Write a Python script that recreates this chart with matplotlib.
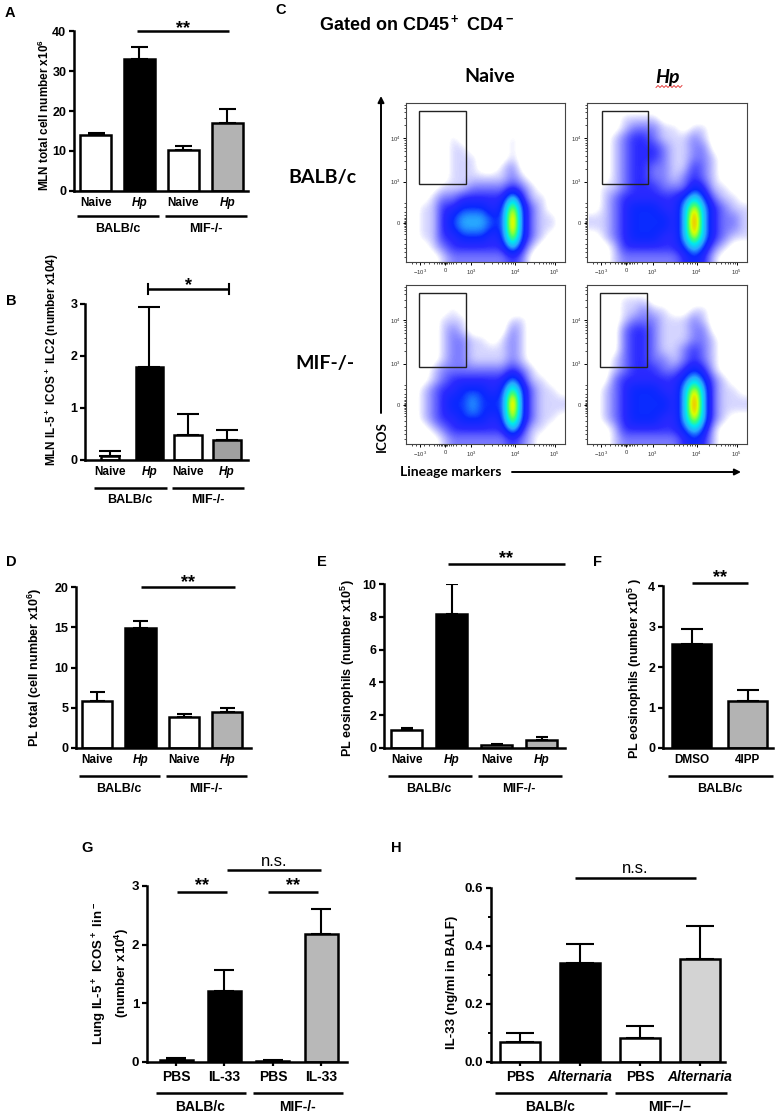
import numpy as np
import matplotlib
matplotlib.use("Agg")
import matplotlib.pyplot as plt
import matplotlib.transforms as mtransforms
from matplotlib.colors import LinearSegmentedColormap
from matplotlib.patches import Rectangle

W, H = 777, 1112

# ---------------- data ----------------
naive_hp = ["Naive", "Hp", "Naive", "Hp"]

mln_total = [14.1, 33.0, 10.2, 17.1]          # A  x10^6
mln_total_err = [0.5, 3.0, 1.1, 3.5]
mln_ilc2 = [0.07, 1.78, 0.49, 0.38]           # B  x10^4
mln_ilc2_err = [0.10, 1.17, 0.40, 0.20]
pl_total = [5.9, 14.9, 3.8, 4.45]             # D  x10^6
pl_total_err = [1.05, 0.9, 0.4, 0.55]
pl_eos = [1.12, 8.2, 0.17, 0.47]              # E  x10^5
pl_eos_err = [0.08, 1.8, 0.10, 0.18]
drug_groups = ["DMSO", "4IPP"]
pl_eos_drug = [2.58, 1.15]                    # F  x10^5
pl_eos_drug_err = [0.35, 0.28]
il33_groups = ["PBS", "IL-33", "PBS", "IL-33"]
lung_ilc2 = [0.035, 1.21, 0.02, 2.19]         # G  x10^4
lung_ilc2_err = [0.035, 0.35, 0.015, 0.41]
alt_groups = ["PBS", "Alternaria", "PBS", "Alternaria"]
balf_il33 = [0.069, 0.34, 0.083, 0.354]       # H  ng/ml
balf_il33_err = [0.031, 0.067, 0.04, 0.116]

# C: coarse event density (0-9) of each dot plot, 16x16 cells, top row first
dens_balb_naive = [
    "0000000000000000", "0000000000000000", "0000000000000000",
    "0000100000100000", "0000110000100000", "0000111000100000",
    "0000111001200000", "0000111111210000", "0001112222321000",
    "0012233333631100", "0113344434842100", "0113455544942110",
    "0113455544942110", "0113344434842100", "0012333333631000",
    "0001222222320000"]
dens_balb_hp = [
    "0000000000000000", "0001111000000000", "0001222110110000",
    "0012332111210000", "0012333211220000", "0012333211221000",
    "0012332211321000", "0012332212321000", "0112333222431100",
    "0123333334642110", "0123444335853211", "1123444435953221",
    "1123444435953221", "0123444335853211", "0013333334642100",
    "0012222223431000"]
dens_mif_naive = [
    "0000000000000000", "0000000000000000", "0000100000000000",
    "0001110000110000", "0001210000210000", "0001221101210000",
    "0001221111210000", "0001221111210000", "0012222222321000",
    "0012333333531100", "0123344434742110", "0123445444942111",
    "0123445444942111", "0123344434842110", "0012333333631100",
    "0001222222321000"]
dens_mif_hp = [
    "0000000000000000", "0001110000000000", "0001121100110000",
    "0001222111210000", "0002332111220000", "0002332111221000",
    "0002332112321000", "0012332212321000", "0012333223431000",
    "0023333334642100", "0123444335852110", "0123444435952111",
    "0123444435952111", "0123444335852100", "0013333334641000",
    "0012222223431000"]

# ---------------- style ----------------
plt.rcParams['font.family'] = ['Liberation Sans', 'DejaVu Sans']
plt.rcParams['font.weight'] = 'bold'
plt.rcParams['mathtext.default'] = 'regular'

fig = plt.figure(figsize=(W / 100, H / 100), dpi=100)
ov = fig.add_axes([0, 0, 1, 1], zorder=10)
ov.set_xlim(0, W)
ov.set_ylim(H, 0)
ov.axis('off')
ov.patch.set_alpha(0)


def px_axes(x0, y0, x1, y1):
    return fig.add_axes([x0 / W, 1 - y1 / H, (x1 - x0) / W, (y1 - y0) / H])


def bar_panel(rect, xlim, ylim, yticks, vals, errs, colors, width, labels,
              fs=9, xfs=8.5, cap_px=8, xtick_len=0, pad=4, ytl=None):
    ax = px_axes(*rect)
    ax.patch.set_alpha(0)
    x = np.arange(len(vals))
    ax.bar(x, vals, width=width, color=colors, edgecolor='black',
           linewidth=1.8, zorder=2)
    ax.errorbar(x, vals, yerr=[np.zeros(len(vals)), errs], fmt='none',
                ecolor='black', elinewidth=1.5, capsize=cap_px * 0.72,
                capthick=1.5, zorder=1)
    ax.set_xlim(*xlim)
    ax.set_ylim(*ylim)
    ax.set_yticks(yticks)
    if ytl is not None:
        ax.set_yticklabels(ytl)
    ax.set_xticks(x)
    ax.set_xticklabels(labels)
    for t in ax.get_xticklabels():
        if t.get_text() in ("Hp", "Alternaria"):
            t.set_fontstyle('italic')
    for s in ('top', 'right'):
        ax.spines[s].set_visible(False)
    for s in ('left', 'bottom'):
        ax.spines[s].set_linewidth(1.8)
    ax.tick_params(axis='y', direction='out', length=3.5, width=1.6,
                   labelsize=fs, pad=2)
    ax.tick_params(axis='x', direction='out', length=xtick_len, width=1.6,
                   labelsize=xfs, pad=pad)
    return ax


def groups(ax, pairs, y_line, y_text, fs=9):
    bt = mtransforms.blended_transform_factory(ax.transData, ov.transData)
    for a, b, name in pairs:
        ov.plot([a - 0.42, b + 0.45], [y_line, y_line], color='black', lw=1.8,
                transform=bt, solid_capstyle='butt')
        ov.text((a + b) / 2, y_text, name, transform=bt, ha='center',
                va='center', fontsize=fs)


def sig(ax, x0, x1, y, text, off=0, fs=13, caps=0.0, weight='bold'):
    ax.plot([x0, x1], [y, y], color='black', lw=1.8, clip_on=False,
            solid_capstyle='butt')
    if caps:
        for xx in (x0, x1):
            ax.plot([xx, xx], [y - caps, y + caps], color='black', lw=1.5,
                    clip_on=False)
    ax.annotate(text, xy=((x0 + x1) / 2, y), xytext=(0, off),
                textcoords='offset points', ha='center', va='baseline',
                fontsize=fs, fontweight=weight, annotation_clip=False)


strain_pairs = [(0, 1, "BALB/c"), (2, 3, "MIF-/-")]
wbkg = ['white', 'black', 'white', '#b3b3b3']

# ---- A ----
axA = bar_panel((74, 31, 248, 191), (-0.49, 3.47), (0, 40), [0, 10, 20, 30, 40],
                mln_total, mln_total_err, wbkg, 0.7, naive_hp, cap_px=8.5)
sig(axA, 0.95, 3.03, 40.1, "**", off=-1.5)
groups(axA, strain_pairs, 216, 229)

# ---- B ----
axB = bar_panel((85, 304, 248, 460), (-0.65, 3.54), (0, 3), [0, 1, 2, 3],
                mln_ilc2, mln_ilc2_err, ['white', 'black', 'white', '#a0a0a0'],
                [0.47, 0.7, 0.7, 0.7], naive_hp, cap_px=11)
sig(axB, 0.96, 3.05, 3.29, "*", off=-1, caps=0.09)
groups(axB, strain_pairs, 488, 500)

# ---- D ----
axD = bar_panel((76, 587, 251, 748), (-0.485, 3.55), (0, 20), [0, 5, 10, 15, 20],
                pl_total, pl_total_err, wbkg, 0.7, naive_hp, cap_px=7.5)
sig(axD, 1.02, 3.18, 20.0, "**", off=0)
groups(axD, strain_pairs, 776, 789)

# ---- E ----
axE = bar_panel((384, 584, 565, 748), (-0.5, 3.52), (0, 10), [0, 2, 4, 6, 8, 10],
                pl_eos, pl_eos_err, wbkg, 0.69, naive_hp, cap_px=6)
sig(axE, 0.92, 3.52, 11.2, "**", off=1)
groups(axE, strain_pairs, 776, 789)

# ---- F ----
axF = bar_panel((663, 586, 773, 748), (-0.51, 1.455), (0, 4), [0, 1, 2, 3, 4],
                pl_eos_drug, pl_eos_drug_err, ['black', '#b3b3b3'], 0.7,
                drug_groups, cap_px=11)
sig(axF, 0.0, 1.0, 4.07, "**", off=1)
groups(axF, [(0, 1, "BALB/c")], 776, 789)

# ---- G ----
axG = bar_panel((147, 886, 347, 1062), (-0.6, 3.53), (0, 3), [0, 1, 2, 3],
                lung_ilc2, lung_ilc2_err, ['white', 'black', 'white', '#b8b8b8'],
                0.68, il33_groups, fs=9.5, xfs=10, cap_px=10, xtick_len=3, pad=3)
sig(axG, 0.02, 1.05, 2.9, "**", off=1)
sig(axG, 1.9, 2.93, 2.9, "**", off=1)
sig(axG, 1.05, 3.0, 3.27, "n.s.", off=3, fs=12, weight='normal')
groups(axG, [(0, 1, "BALB/c"), (2, 3, "MIF-/-")], 1093, 1107, fs=10)

# ---- H ----
axH = bar_panel((491, 888, 725, 1062), (-0.483, 3.417), (0, 0.6),
                [0, 0.2, 0.4, 0.6], balf_il33, balf_il33_err,
                ['white', 'black', 'white', '#d3d3d3'], 0.67, alt_groups,
                fs=9.5, xfs=10, cap_px=14, xtick_len=3, pad=3,
                ytl=["0.0", "0.2", "0.4", "0.6"])
axH.set_yticks([0.1, 0.3, 0.5], minor=True)
axH.tick_params(axis='y', which='minor', length=2, width=1.4)
sig(axH, 0.92, 2.93, 0.634, "n.s.", off=3.6, fs=12, weight='normal')
groups(axH, [(0, 1, "BALB/c"), (2, 3, "MIF\u2013/\u2013")], 1093, 1107, fs=10)

# ---- y labels ----
ylabs = [
    (44, 115, 'MLN total cell number x10$^6$', 8.5),
    (52, 360, 'MLN IL-5$^+$ ICOS$^+$ ILC2 (number x104)', 8.5),
    (35, 668, 'PL total (cell number x10$^6$)', 9),
    (348, 668, 'PL eosinophils (number x10$^5$)', 9),
    (635, 668, 'PL eosinophils (number x10$^5$ )', 9),
    (100, 973, 'Lung IL-5$^+$ ICOS$^+$ lin$^-$', 9.5),
    (122, 973, '(number x10$^4$)', 9.5),
    (452, 982, 'IL-33 (ng/ml in BALF)', 9.5),
]
for x, y, t, fs in ylabs:
    ov.text(x, y, t, rotation=90, ha='center', va='center', fontsize=fs)

# ---- panel letters ----
for x, y, t in [(10, 13, "A"), (11, 301, "B"), (281, 10, "C"), (11, 562, "D"),
                (322, 562, "E"), (597, 562, "F"), (87, 848, "G"), (396, 848, "H")]:
    ov.text(x, y, t, ha='center', va='center', fontsize=10.5)

# ---------------- C: flow dot plots ----------------
flow_cmap = LinearSegmentedColormap.from_list("flow", [
    (0.0, 'white'), (0.06, 'white'), (0.11, '#d4d4ff'), (0.22, '#7c7cff'),
    (0.33, '#2a2aff'), (0.44, '#0a28ff'), (0.55, '#28a8ff'), (0.65, '#00e8f0'),
    (0.73, '#40ff70'), (0.81, '#d8ff00'), (0.88, '#ffb000'), (0.95, '#ff3000'),
    (1.0, '#e00000')])
flow_cmap.set_under('white')

xmaj = [0.09, 0.245, 0.41, 0.685, 0.935]
xmaj_lab = ['$-10^3$', '0', '$10^3$', '$10^4$', '$10^5$']
ymaj = [0.244, 0.505, 0.777]
ymaj_lab = ['0', '$10^3$', '$10^4$']


def decade(lo, hi):
    return [lo + (hi - lo) * np.log10(k) for k in range(2, 10)]


near0 = [0.008, 0.016, 0.024, 0.035, 0.05, 0.07, 0.1, 0.13]
xmin_t = decade(0.41, 0.685) + decade(0.685, 0.935) + \
    [0.245 + s * d for d in near0 for s in (-1, 1)] + [0.04, 0.06]
ymin_t = decade(0.505, 0.777) + [v for v in decade(0.777, 1.05) if v < 1] + \
    [0.244 + s * d for d in near0 for s in (-1, 1)] + [0.03, 0.06, 0.09]


def flow_plot(rect, grid, gate):
    ax = px_axes(*rect)
    arr = np.array([[int(c) for c in row] for row in grid], dtype=float)
    ax.imshow(arr, cmap=flow_cmap, vmin=0.01, vmax=9, extent=[0.01, 1.01, 0, 1],
              origin='upper', interpolation='bicubic', aspect='auto')
    ax.set_xlim(0, 1)
    ax.set_ylim(0, 1)
    ax.add_patch(Rectangle((gate[0], gate[1]), gate[2] - gate[0],
                           gate[3] - gate[1], fill=False, lw=1.0, ec='#222222'))
    ax.set_xticks(xmaj)
    ax.set_xticklabels(xmaj_lab)
    ax.set_yticks(ymaj)
    ax.set_yticklabels(ymaj_lab)
    ax.set_xticks(xmin_t, minor=True)
    ax.set_yticks(ymin_t, minor=True)
    ax.tick_params(which='major', length=2.5, width=0.7, labelsize=4.2, pad=1.5,
                   labelcolor='#333333')
    ax.tick_params(which='minor', length=1.5, width=0.5)
    for s in ax.spines.values():
        s.set_linewidth(0.8)
        s.set_color('#444444')
    for t in ax.get_xticklabels() + ax.get_yticklabels():
        t.set_fontweight('normal')
    return ax


flow_plot((406, 103, 565, 262), dens_balb_naive, (0.082, 0.491, 0.377, 0.95))
flow_plot((587, 103, 747, 262), dens_balb_hp, (0.094, 0.491, 0.383, 0.95))
flow_plot((406, 285, 565, 444), dens_mif_naive, (0.082, 0.484, 0.377, 0.95))
flow_plot((587, 285, 747, 444), dens_mif_hp, (0.081, 0.484, 0.376, 0.95))

ov.text(319, 24, 'Gated on CD45$^+$ CD4$^-$', ha='left', va='center',
        fontsize=13)
flow_font = ['Lato', 'DejaVu Sans']
ov.text(490, 77, 'Naive', ha='center', va='center', fontsize=14,
        family=flow_font)
ov.text(667, 77, 'Hp', ha='center', va='center', fontsize=14,
        family=flow_font, style='italic')
sq_x = np.linspace(656, 682, 14)
ov.plot(sq_x, 86.5 + 1.0 * (-1) ** np.arange(14), color='#e02020', lw=0.6)
ov.text(322, 178, 'BALB/c', ha='center', va='center', fontsize=14,
        family=flow_font)
ov.text(325, 363, 'MIF-/-', ha='center', va='center', fontsize=14,
        family=flow_font)
ov.annotate('', xy=(381, 96), xytext=(381, 413),
            arrowprops=dict(arrowstyle='-|>', lw=1.4, color='black',
                            mutation_scale=9, shrinkA=0, shrinkB=0))
ov.text(382, 437, 'ICOS', rotation=90, ha='center', va='center', fontsize=9.5,
        family=flow_font)
ov.text(400, 472, 'Lineage markers', ha='left', va='center', fontsize=10,
        family=flow_font)
ov.annotate('', xy=(741, 472), xytext=(512, 472),
            arrowprops=dict(arrowstyle='-|>', lw=1.4, color='black',
                            mutation_scale=9, shrinkA=0, shrinkB=0))

fig.savefig('out.png', dpi=100)
